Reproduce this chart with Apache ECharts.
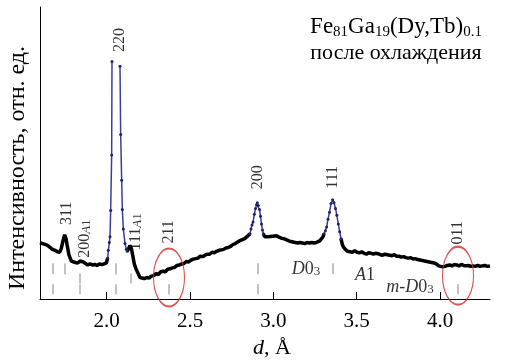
<!DOCTYPE html>
<html><head><meta charset="utf-8">
<script src="https://cdn.jsdelivr.net/npm/echarts@6/dist/echarts.min.js"></script>
<style>html,body{margin:0;padding:0;background:#fff}#c{width:509px;height:364px}</style>
</head><body><div id="c"></div>
<script>
// d-spacing (Å) and intensity (arb. units); null = gap at the top of the 220 peak
const dValues = [1.600,1.615,1.630,1.645,1.660,1.675,1.690,1.705,1.718,1.728,1.738,1.748,1.756,1.764,1.774,1.788,1.800,1.812,1.826,1.840,1.850,1.860,1.872,1.886,1.900,1.914,1.928,1.942,1.956,1.970,1.984,1.998,2.006,2.010,2.016,2.020,2.024,2.030,2.032,2.056,2.080,2.084,2.090,2.094,2.100,2.110,2.118,2.124,2.132,2.140,2.148,2.156,2.166,2.178,2.190,2.200,2.212,2.226,2.240,2.254,2.268,2.282,2.296,2.310,2.324,2.338,2.352,2.366,2.380,2.394,2.408,2.422,2.436,2.450,2.464,2.478,2.492,2.506,2.520,2.534,2.548,2.562,2.576,2.590,2.604,2.618,2.632,2.646,2.660,2.674,2.688,2.702,2.716,2.730,2.744,2.758,2.772,2.786,2.800,2.814,2.828,2.842,2.852,2.860,2.866,2.872,2.878,2.886,2.893,2.900,2.904,2.910,2.917,2.923,2.929,2.935,2.940,2.948,2.958,2.970,2.982,2.994,3.006,3.020,3.034,3.048,3.062,3.076,3.090,3.104,3.118,3.132,3.146,3.160,3.174,3.188,3.202,3.216,3.230,3.244,3.258,3.270,3.280,3.290,3.298,3.304,3.312,3.320,3.328,3.337,3.346,3.356,3.364,3.373,3.381,3.390,3.398,3.406,3.414,3.420,3.432,3.446,3.460,3.474,3.488,3.502,3.516,3.530,3.544,3.558,3.572,3.586,3.600,3.614,3.628,3.642,3.656,3.670,3.684,3.698,3.712,3.726,3.740,3.754,3.768,3.782,3.796,3.810,3.824,3.838,3.852,3.866,3.880,3.894,3.908,3.922,3.936,3.950,3.964,3.978,3.992,4.004,4.016,4.030,4.044,4.058,4.072,4.086,4.100,4.114,4.128,4.142,4.156,4.170,4.184,4.198,4.212,4.226,4.240,4.254,4.268,4.284,4.300];
const intensity = [58,57,56,55,53,51,50,48.5,48,52,60,66,62,54,45,39,37,37.5,37,39,39.5,38,36,35,36,35,35.5,34.5,36,35.5,36,37,42,50,58,64,91,148,244,null,239,169,122,92,72,57,51,49,52,55,52,45,36,30,26,22,20,21,22,21.5,23.5,24,26,25,28,28.5,28,30.5,31,32,32.5,34.5,35,36,36.5,38.5,38,40,41,41.5,42,44,43.5,45,46,46,48,47.5,49,50,50.5,51,52.5,53,54,56,57,58.5,60,61,62,64,65,67,72,76,79,87,93,97,99,96,92,85,77,71,67,64,63,64,65,64.5,65.5,65,63.5,62.5,62,61,60,59,58.5,58,57.5,58,57.5,57,58,57.5,58,57.5,58,59,60,62,64,67,70,74,82,89,98,102,99,93,86,77,69,62,56,53.5,51,49,48.5,48,49.5,48,47.5,48.5,47,46,47.5,47,46,47,46.5,45.5,45,46,45.5,45,44.5,45.5,44,44,43,43.5,42.5,42,42.5,41,41.5,40.5,40,39.5,39,38.5,38,37.5,37,36,34,32,33,33.5,34.5,35,34,35.5,35,34,35.5,34.5,34,34.5,33.5,34,33.5,34.5,33.5,34,34.5,33.5,34];
// d-ranges of the peaks drawn in blue
const peakRanges = [[2.006, 2.124], [2.860, 2.940], [3.304, 3.406]];
// reference reflection positions (Å)
const marksD03 = [1.678, 1.750, 2.056, 2.908, 3.358];
const marksA1 = [1.840, 2.146];
const marksMD03 = [1.678, 1.840, 2.056, 2.374, 2.908, 4.108];
// peak labels
const peakLabels = ['{n|311}', '{n|200}{si|A}{s|1}', '{n|220}', '{n|111}{si|A}{s|1}', '{n|211}', '{n|200}', '{n|111}', '{n|011}'];
const peakLabelD = [1.762, 1.870, 2.080, 2.176, 2.374, 2.908, 3.358, 4.108];
const peakLabelI = [88, 62, 266, 69, 69, 125, 125, 68];
// phase row labels
const phaseLabels = ['{i|D}{n|0}{s|3}', '{i|A}{n|1}', '{i|m}{n|-}{i|D}{n|0}{s|3}'];
const phaseLabelD = [3.196, 3.550, 3.820];
const phaseLabelI = [31, 24, 12];
// circled positions
const circledD = [2.374, 4.108];
const circledI = [22, 24];
const xTicks = [2.0, 2.5, 3.0, 3.5, 4.0];

const SERIF = '"Liberation Serif", "DejaVu Serif", serif';
const inRange = (d, r) => d >= r[0] && d <= r[1];
const inside = (d, r) => d > r[0] && d < r[1];
const blackData = dValues.map((d, i) => [d, peakRanges.some(r => inside(d, r)) ? null : intensity[i]]);
const blueSeries = peakRanges.map(r => ({
  type: 'line',
  data: dValues.map((d, i) => [d, intensity[i]]).filter(p => inRange(p[0], r)),
  showSymbol: true, symbol: 'circle', symbolSize: 3,
  itemStyle: { color: '#1f2266' },
  lineStyle: { color: '#3a3f9e', width: 1.5 },
  connectNulls: false, z: 4, silent: true, animation: false
}));
const markSeries = (arr, y, h) => ({
  type: 'scatter', data: arr.map(d => [d, y]), symbol: 'rect', symbolSize: [1, h],
  itemStyle: { color: '#666' }, z: 2, silent: true, animation: false
});

const chart = echarts.init(document.getElementById('c'));
chart.setOption({
  backgroundColor: '#fff',
  animation: false,
  grid: { left: 40, right: 19, top: 7, bottom: 57 },
  xAxis: {
    type: 'value', min: 1.6, max: 4.3,
    axisLine: { show: true, lineStyle: { color: '#000', width: 1 } },
    axisTick: { show: true, inside: true, length: 7, customValues: xTicks, lineStyle: { color: '#000' } },
    axisLabel: { customValues: xTicks, formatter: v => v.toFixed(1), fontFamily: SERIF, fontSize: 21, color: '#000', margin: 12 },
    splitLine: { show: false },
    name: '{i|d}{n|, Å}', nameLocation: 'middle', nameGap: 38,
    nameTextStyle: { rich: {
      i: { fontFamily: SERIF, fontStyle: 'italic', fontSize: 22, color: '#000' },
      n: { fontFamily: SERIF, fontSize: 22, color: '#000' }
    }, padding: [0, 0, 0, 14] }
  },
  yAxis: {
    type: 'value', min: 0, max: 300,
    axisLine: { show: true, lineStyle: { color: '#000', width: 1 } },
    axisTick: { show: false }, axisLabel: { show: false }, splitLine: { show: false }
  },
  graphic: [{
    type: 'text', x: 18, y: 168, rotation: Math.PI / 2,
    style: { text: 'Интенсивность, отн. ед.', font: '24px ' + SERIF, fill: '#000',
      align: 'center', verticalAlign: 'middle', textAlign: 'center', textVerticalAlign: 'middle' }
  }, {
    type: 'text', x: 396, y: 14,
    style: {
      text: '{n|Fe}{s|81}{n|Ga}{s|19}{n|(Dy,Tb)}{s|0.1}\n{m|после охлаждения}',
      align: 'center', verticalAlign: 'top', textAlign: 'center', textVerticalAlign: 'top',
      rich: {
        n: { fontFamily: SERIF, fontWeight: 'normal', fontSize: 23, lineHeight: 26, fill: '#000', color: '#000' },
        s: { fontFamily: SERIF, fontWeight: 'normal', fontSize: 15, lineHeight: 15, padding: [11, 0, 0, 0], verticalAlign: 'bottom', fill: '#000', color: '#000' },
        m: { fontFamily: SERIF, fontWeight: 'normal', fontSize: 22, lineHeight: 26, fill: '#000', color: '#000' }
      }
    }
  }],
  series: [
    markSeries(marksD03, 31, 11),
    markSeries(marksA1, 21, 10),
    markSeries(marksMD03, 10, 10),
    {
      type: 'line', data: blackData, showSymbol: false, connectNulls: false,
      lineStyle: { color: '#000', width: 3.5 }, z: 3, silent: true, animation: false
    },
    ...blueSeries,
    {
      type: 'scatter', data: circledD.map((d, i) => [d, circledI[i]]), symbol: 'circle',
      symbolSize: [31, 58], clip: false,
      itemStyle: { color: 'rgba(0,0,0,0)', borderColor: '#d42c2c', borderWidth: 1.5 },
      z: 6, silent: true, animation: false
    },
    {
      type: 'scatter', data: peakLabelD.map((d, i) => ({ value: [d, peakLabelI[i]], label: { formatter: peakLabels[i] } })),
      symbolSize: 0, clip: false, z: 7, silent: true, animation: false,
      label: {
        show: true, position: 'inside', rotate: 90,
        rich: {
          n: { fontFamily: SERIF, fontSize: 16, lineHeight: 16, color: '#000' },
          si: { fontFamily: SERIF, fontStyle: 'italic', fontSize: 13, lineHeight: 13, padding: [7, 0, 0, 0], verticalAlign: 'bottom', color: '#000' },
          s: { fontFamily: SERIF, fontSize: 13, lineHeight: 13, padding: [7, 0, 0, 0], verticalAlign: 'bottom', color: '#000' }
        }
      }
    },
    {
      type: 'scatter', data: phaseLabelD.map((d, i) => ({ value: [d, phaseLabelI[i]], label: { formatter: phaseLabels[i] } })),
      symbolSize: 0, clip: false, z: 7, silent: true, animation: false,
      label: {
        show: true, position: 'inside',
        rich: {
          i: { fontFamily: SERIF, fontStyle: 'italic', fontSize: 18, lineHeight: 18, color: '#000' },
          n: { fontFamily: SERIF, fontSize: 18, lineHeight: 18, color: '#000' },
          s: { fontFamily: SERIF, fontSize: 13, lineHeight: 13, padding: [8, 0, 0, 0], verticalAlign: 'bottom', color: '#000' }
        }
      }
    }
  ]
});
</script></body></html>
